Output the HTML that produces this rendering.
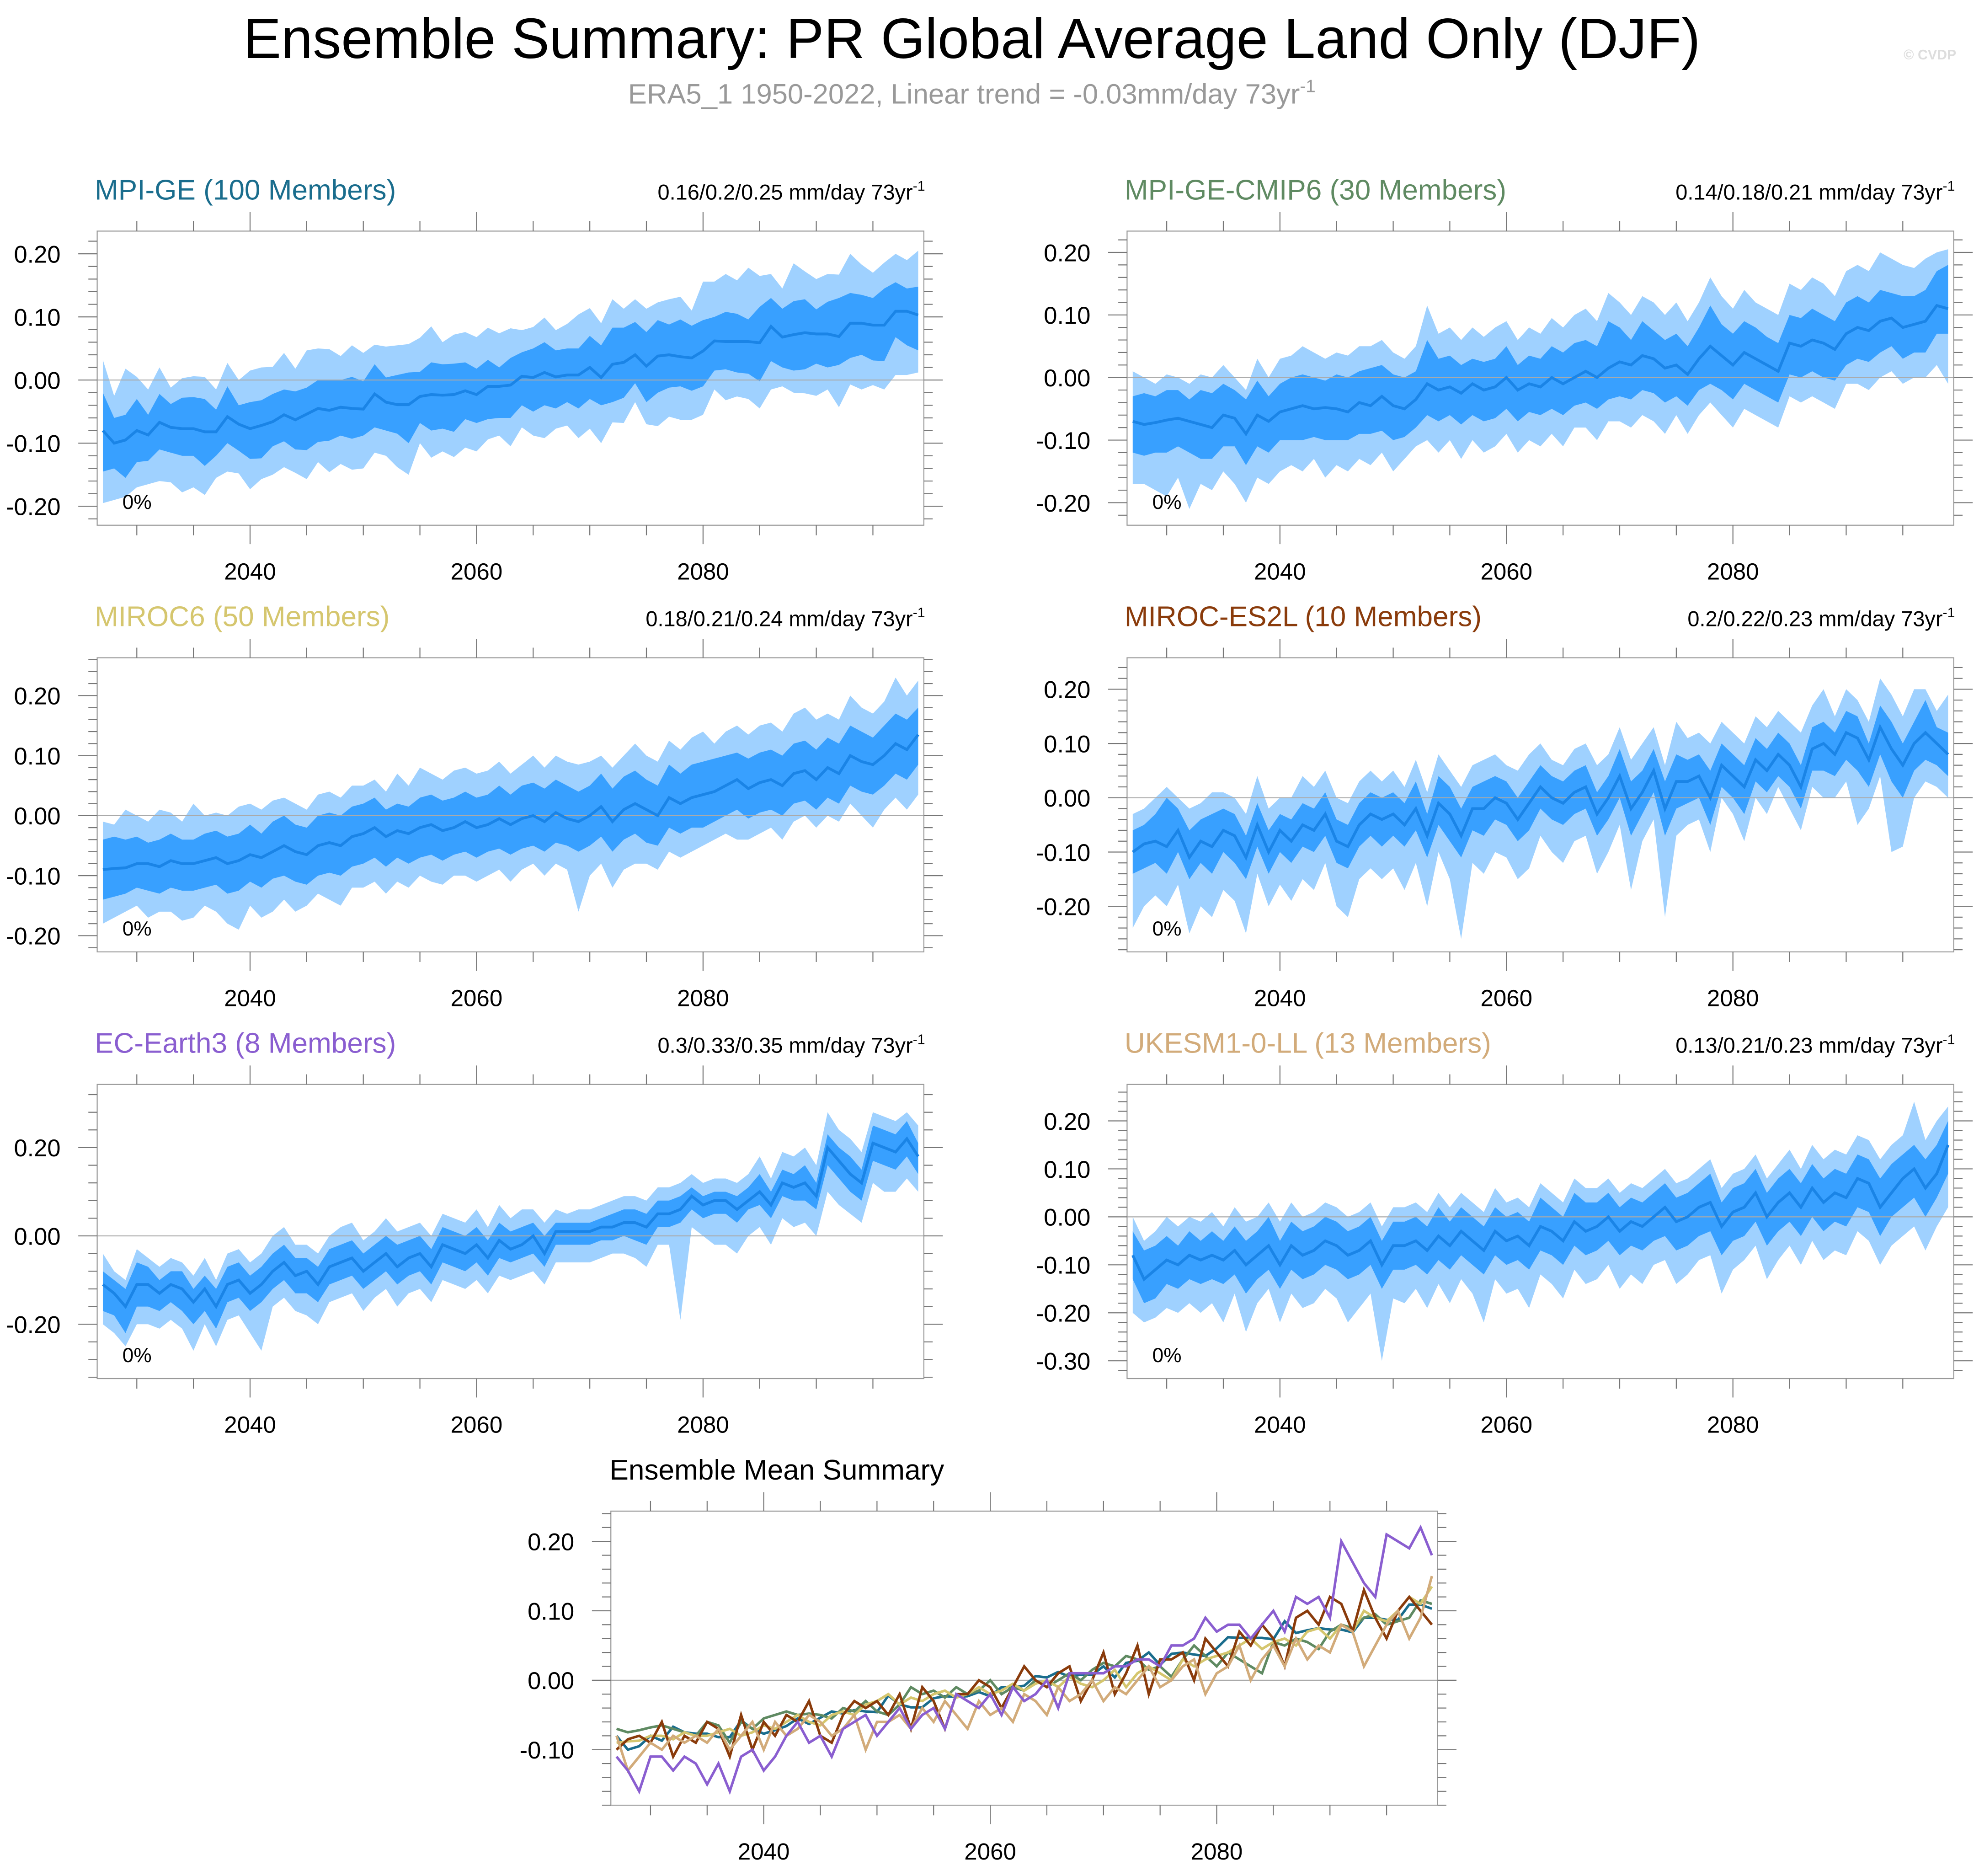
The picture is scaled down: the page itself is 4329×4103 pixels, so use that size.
<!DOCTYPE html>
<html><head><meta charset="utf-8"><style>
html,body{margin:0;padding:0;background:#fff;}
svg{display:block;font-family:"Liberation Sans",sans-serif;}
</style></head><body>
<svg id="chart" width="4329" height="4103" viewBox="0 0 1568 1486" xmlns="http://www.w3.org/2000/svg">
<rect width="1568" height="1486" fill="#fff"/>
<text x="770" y="46" font-size="45" text-anchor="middle" fill="#000">Ensemble Summary: PR Global Average Land Only (DJF)</text>
<text x="770" y="82" font-size="22.3" text-anchor="middle" fill="#999">ERA5_1 1950-2022, Linear trend = -0.03mm/day 73yr<tspan dy="-9" font-size="14">-1</tspan></text>
<text x="1550" y="47" font-size="11" text-anchor="end" fill="#ddd" font-weight="bold">© CVDP</text>
<g id="plots"></g>
</svg>
<script>
const years0 = 2027;
const mean1=[-0.08,-0.10,-0.095,-0.08,-0.087,-0.067,-0.075,-0.077,-0.077,-0.082,-0.082,-0.058,-0.07,-0.077,-0.072,-0.066,-0.055,-0.063,-0.054,-0.045,-0.048,-0.043,-0.045,-0.046,-0.022,-0.035,-0.039,-0.039,-0.026,-0.023,-0.024,-0.023,-0.017,-0.023,-0.01,-0.01,-0.008,0.006,0.004,0.012,0.005,0.008,0.008,0.02,0.004,0.025,0.028,0.04,0.022,0.038,0.04,0.037,0.035,0.046,0.062,0.061,0.061,0.061,0.059,0.085,0.068,0.072,0.075,0.073,0.073,0.069,0.09,0.09,0.087,0.087,0.109,0.109,0.103];
const innerHi1=[-0.02,-0.06,-0.055,-0.03,-0.055,-0.022,-0.038,-0.028,-0.027,-0.03,-0.047,-0.01,-0.04,-0.035,-0.032,-0.022,-0.015,-0.018,-0.012,0.0,0.0,0.0,0.005,-0.002,0.025,0.004,0.008,0.012,0.013,0.028,0.025,0.026,0.028,0.018,0.032,0.02,0.035,0.044,0.05,0.06,0.047,0.05,0.05,0.07,0.055,0.083,0.083,0.092,0.076,0.095,0.088,0.096,0.086,0.095,0.1,0.108,0.105,0.096,0.116,0.13,0.113,0.125,0.128,0.112,0.124,0.13,0.138,0.135,0.13,0.145,0.155,0.145,0.148];
const innerLo1=[-0.145,-0.14,-0.155,-0.13,-0.128,-0.11,-0.115,-0.12,-0.12,-0.136,-0.12,-0.1,-0.112,-0.125,-0.124,-0.105,-0.097,-0.11,-0.111,-0.098,-0.096,-0.088,-0.093,-0.088,-0.075,-0.08,-0.085,-0.1,-0.068,-0.08,-0.077,-0.082,-0.062,-0.068,-0.062,-0.06,-0.06,-0.04,-0.05,-0.04,-0.045,-0.035,-0.045,-0.03,-0.04,-0.035,-0.028,-0.005,-0.035,-0.02,-0.012,-0.01,-0.017,-0.01,0.015,0.017,0.012,0.01,-0.002,0.03,0.02,0.015,0.017,0.026,0.02,0.024,0.035,0.04,0.031,0.03,0.068,0.055,0.047];
const outerHi1=[0.032,-0.025,0.018,0.005,-0.015,0.02,-0.012,0.003,0.006,0.005,-0.015,0.027,0.0,0.015,0.02,0.021,0.043,0.018,0.047,0.05,0.049,0.038,0.055,0.043,0.056,0.053,0.055,0.057,0.067,0.085,0.06,0.072,0.076,0.068,0.083,0.074,0.082,0.079,0.084,0.099,0.079,0.089,0.104,0.114,0.09,0.128,0.113,0.128,0.113,0.123,0.128,0.132,0.11,0.156,0.156,0.168,0.158,0.178,0.165,0.168,0.145,0.185,0.172,0.16,0.168,0.167,0.2,0.183,0.17,0.186,0.2,0.19,0.205];
const outerLo1=[-0.195,-0.19,-0.185,-0.17,-0.165,-0.16,-0.162,-0.178,-0.17,-0.182,-0.155,-0.145,-0.148,-0.173,-0.157,-0.15,-0.138,-0.147,-0.157,-0.13,-0.146,-0.133,-0.142,-0.14,-0.115,-0.12,-0.138,-0.15,-0.1,-0.123,-0.113,-0.122,-0.107,-0.113,-0.094,-0.088,-0.105,-0.075,-0.088,-0.092,-0.077,-0.072,-0.092,-0.077,-0.1,-0.067,-0.068,-0.035,-0.07,-0.073,-0.058,-0.063,-0.063,-0.055,-0.015,-0.032,-0.026,-0.03,-0.045,-0.015,-0.01,-0.02,-0.021,-0.025,-0.015,-0.043,-0.007,-0.015,-0.008,-0.015,0.008,0.008,0.012];

const mean2=[-0.07,-0.075,-0.072,-0.068,-0.065,-0.07,-0.075,-0.08,-0.06,-0.065,-0.09,-0.06,-0.07,-0.055,-0.05,-0.045,-0.05,-0.048,-0.05,-0.055,-0.04,-0.045,-0.03,-0.045,-0.05,-0.035,-0.01,-0.02,-0.015,-0.025,-0.01,-0.02,-0.015,0.0,-0.02,-0.01,-0.015,0.0,-0.01,0.0,0.01,0.0,0.015,0.025,0.02,0.035,0.03,0.015,0.02,0.005,0.03,0.05,0.035,0.02,0.04,0.03,0.02,0.01,0.055,0.05,0.06,0.055,0.045,0.07,0.08,0.075,0.09,0.095,0.08,0.085,0.09,0.115,0.11];
const innerHi2=[-0.03,-0.025,-0.03,-0.02,-0.02,-0.035,-0.02,-0.025,-0.01,-0.02,-0.035,-0.005,-0.03,-0.01,0.0,0.005,0.0,-0.005,0.005,0.0,0.01,0.015,0.02,0.005,0.0,0.01,0.06,0.03,0.035,0.02,0.03,0.025,0.03,0.05,0.02,0.035,0.03,0.05,0.04,0.055,0.06,0.05,0.09,0.08,0.06,0.09,0.075,0.06,0.07,0.05,0.08,0.115,0.085,0.07,0.09,0.08,0.065,0.055,0.1,0.095,0.11,0.1,0.09,0.12,0.13,0.12,0.14,0.135,0.13,0.13,0.14,0.17,0.18];
const innerLo2=[-0.12,-0.125,-0.12,-0.12,-0.11,-0.12,-0.13,-0.13,-0.11,-0.11,-0.14,-0.11,-0.12,-0.1,-0.1,-0.1,-0.095,-0.1,-0.1,-0.1,-0.09,-0.09,-0.085,-0.1,-0.095,-0.08,-0.06,-0.07,-0.06,-0.075,-0.06,-0.07,-0.065,-0.05,-0.07,-0.055,-0.06,-0.05,-0.06,-0.045,-0.04,-0.05,-0.035,-0.03,-0.035,-0.02,-0.025,-0.04,-0.03,-0.045,-0.02,-0.01,-0.02,-0.035,-0.01,-0.02,-0.03,-0.04,0.005,0.0,0.01,0.0,-0.005,0.02,0.03,0.025,0.04,0.05,0.03,0.04,0.04,0.07,0.07];
const outerHi2=[0.01,0.0,-0.01,0.005,0.0,-0.01,0.005,0.0,0.02,0.0,-0.02,0.03,0.0,0.03,0.035,0.05,0.04,0.03,0.04,0.035,0.05,0.05,0.06,0.04,0.03,0.05,0.115,0.07,0.08,0.06,0.08,0.065,0.08,0.09,0.06,0.08,0.07,0.095,0.08,0.1,0.11,0.09,0.135,0.12,0.1,0.13,0.12,0.1,0.12,0.09,0.12,0.16,0.13,0.11,0.14,0.12,0.11,0.1,0.15,0.14,0.16,0.15,0.13,0.17,0.18,0.17,0.2,0.19,0.18,0.175,0.19,0.2,0.205];
const outerLo2=[-0.17,-0.17,-0.18,-0.19,-0.16,-0.21,-0.17,-0.18,-0.15,-0.17,-0.2,-0.16,-0.17,-0.15,-0.14,-0.15,-0.13,-0.16,-0.14,-0.15,-0.13,-0.14,-0.12,-0.15,-0.13,-0.11,-0.1,-0.12,-0.1,-0.13,-0.1,-0.12,-0.11,-0.09,-0.12,-0.1,-0.11,-0.09,-0.11,-0.08,-0.08,-0.1,-0.07,-0.07,-0.08,-0.06,-0.07,-0.09,-0.06,-0.09,-0.06,-0.04,-0.06,-0.08,-0.05,-0.06,-0.07,-0.08,-0.03,-0.04,-0.03,-0.04,-0.05,-0.01,-0.01,-0.02,0.0,0.01,-0.01,0.0,0.0,0.02,-0.01];

const mean3=[-0.09,-0.088,-0.087,-0.08,-0.08,-0.085,-0.075,-0.08,-0.08,-0.075,-0.07,-0.08,-0.075,-0.065,-0.07,-0.06,-0.05,-0.06,-0.065,-0.05,-0.045,-0.05,-0.035,-0.03,-0.02,-0.035,-0.025,-0.03,-0.02,-0.015,-0.025,-0.02,-0.01,-0.02,-0.015,-0.005,-0.015,-0.005,0.0,-0.01,0.005,-0.005,-0.01,0.0,0.015,-0.01,0.01,0.02,0.01,0.0,0.03,0.02,0.03,0.035,0.04,0.05,0.06,0.045,0.055,0.06,0.05,0.07,0.075,0.06,0.08,0.07,0.1,0.09,0.085,0.1,0.12,0.11,0.135];
const innerHi3=[-0.04,-0.035,-0.04,-0.035,-0.045,-0.04,-0.03,-0.04,-0.04,-0.03,-0.025,-0.035,-0.03,-0.015,-0.03,-0.01,0.0,-0.015,-0.02,0.0,0.005,0.0,0.015,0.02,0.03,0.01,0.02,0.015,0.03,0.035,0.025,0.03,0.04,0.03,0.035,0.05,0.035,0.05,0.055,0.045,0.06,0.05,0.04,0.05,0.07,0.045,0.065,0.075,0.06,0.05,0.085,0.07,0.085,0.09,0.095,0.1,0.105,0.095,0.105,0.11,0.1,0.12,0.125,0.11,0.13,0.12,0.15,0.14,0.13,0.15,0.17,0.16,0.18];
const innerLo3=[-0.14,-0.135,-0.13,-0.12,-0.125,-0.13,-0.12,-0.125,-0.125,-0.12,-0.115,-0.13,-0.125,-0.11,-0.12,-0.105,-0.1,-0.11,-0.115,-0.1,-0.095,-0.1,-0.085,-0.08,-0.07,-0.085,-0.07,-0.08,-0.07,-0.065,-0.075,-0.065,-0.06,-0.07,-0.06,-0.055,-0.065,-0.055,-0.05,-0.06,-0.045,-0.05,-0.06,-0.05,-0.035,-0.06,-0.04,-0.03,-0.045,-0.05,-0.02,-0.03,-0.02,-0.02,-0.01,0.0,0.01,-0.005,0.005,0.01,0.0,0.02,0.025,0.01,0.03,0.02,0.05,0.04,0.035,0.05,0.07,0.06,0.085];
const outerHi3=[-0.01,-0.015,0.01,0.0,-0.01,0.01,0.005,-0.01,0.02,0.0,0.005,0.0,0.015,0.02,0.01,0.025,0.03,0.02,0.01,0.035,0.04,0.03,0.05,0.05,0.06,0.04,0.07,0.05,0.08,0.07,0.06,0.075,0.08,0.07,0.075,0.09,0.07,0.085,0.1,0.08,0.1,0.09,0.085,0.09,0.1,0.08,0.1,0.12,0.1,0.09,0.125,0.11,0.13,0.14,0.12,0.14,0.15,0.135,0.15,0.155,0.14,0.17,0.18,0.16,0.17,0.16,0.2,0.18,0.17,0.19,0.23,0.2,0.225];
const outerLo3=[-0.18,-0.17,-0.16,-0.15,-0.17,-0.16,-0.16,-0.175,-0.17,-0.15,-0.16,-0.18,-0.19,-0.15,-0.17,-0.16,-0.14,-0.16,-0.15,-0.13,-0.14,-0.15,-0.12,-0.12,-0.11,-0.13,-0.11,-0.12,-0.1,-0.11,-0.115,-0.1,-0.1,-0.11,-0.1,-0.09,-0.11,-0.09,-0.08,-0.1,-0.08,-0.09,-0.16,-0.1,-0.08,-0.12,-0.09,-0.08,-0.08,-0.09,-0.06,-0.07,-0.06,-0.05,-0.04,-0.03,-0.04,-0.04,-0.03,-0.02,-0.04,-0.01,0.0,-0.02,0.0,-0.01,0.02,0.0,-0.02,0.01,0.03,0.01,0.035];

const mean4=[-0.1,-0.085,-0.08,-0.09,-0.06,-0.11,-0.08,-0.09,-0.06,-0.07,-0.11,-0.05,-0.1,-0.06,-0.08,-0.05,-0.06,-0.03,-0.08,-0.09,-0.05,-0.03,-0.04,-0.03,-0.05,-0.02,-0.07,-0.01,-0.03,-0.07,-0.02,-0.02,0.0,-0.01,-0.04,-0.01,0.02,0.0,-0.01,0.01,0.02,-0.03,0.0,0.04,-0.02,0.01,0.05,-0.02,0.03,0.03,0.04,0.0,0.06,0.04,0.02,0.07,0.05,0.08,0.06,0.02,0.09,0.1,0.08,0.12,0.11,0.07,0.13,0.09,0.06,0.1,0.12,0.1,0.08];
const innerHi4=[-0.06,-0.05,-0.03,0.0,-0.02,-0.06,-0.04,-0.03,-0.02,-0.03,-0.07,-0.01,-0.06,-0.03,-0.04,-0.01,-0.02,0.01,-0.04,-0.05,-0.01,0.01,0.0,0.01,-0.01,0.03,-0.03,0.04,0.02,-0.02,0.02,0.03,0.04,0.03,0.0,0.03,0.06,0.04,0.03,0.05,0.06,0.01,0.04,0.09,0.03,0.05,0.09,0.03,0.08,0.07,0.08,0.05,0.1,0.08,0.06,0.11,0.09,0.12,0.1,0.06,0.13,0.14,0.12,0.16,0.15,0.1,0.17,0.14,0.1,0.14,0.18,0.13,0.12];
const innerLo4=[-0.14,-0.13,-0.12,-0.14,-0.1,-0.15,-0.12,-0.14,-0.1,-0.12,-0.15,-0.09,-0.14,-0.1,-0.12,-0.09,-0.1,-0.07,-0.12,-0.13,-0.09,-0.07,-0.09,-0.07,-0.09,-0.06,-0.11,-0.05,-0.08,-0.11,-0.06,-0.07,-0.04,-0.05,-0.08,-0.06,-0.02,-0.04,-0.05,-0.03,-0.02,-0.07,-0.04,0.0,-0.07,-0.03,0.01,-0.07,-0.02,-0.01,0.0,-0.05,0.02,0.0,-0.03,0.03,0.01,0.04,0.02,-0.02,0.05,0.05,0.04,0.07,0.05,0.02,0.08,0.03,0.0,0.05,0.07,0.06,0.04];
const outerHi4=[-0.03,-0.02,0.0,0.02,0.0,-0.02,-0.01,0.01,0.01,0.0,-0.03,0.04,-0.02,0.0,0.0,0.04,0.02,0.05,0.0,-0.01,0.03,0.05,0.03,0.05,0.02,0.07,0.01,0.08,0.05,0.02,0.06,0.07,0.08,0.06,0.05,0.08,0.1,0.07,0.06,0.09,0.1,0.06,0.08,0.13,0.07,0.1,0.13,0.06,0.14,0.11,0.12,0.1,0.14,0.12,0.1,0.15,0.13,0.16,0.14,0.12,0.17,0.2,0.15,0.2,0.18,0.14,0.22,0.19,0.15,0.2,0.2,0.16,0.19];
const outerLo4=[-0.24,-0.2,-0.18,-0.2,-0.16,-0.25,-0.2,-0.22,-0.17,-0.19,-0.25,-0.14,-0.2,-0.16,-0.19,-0.15,-0.17,-0.12,-0.2,-0.22,-0.15,-0.13,-0.15,-0.13,-0.17,-0.12,-0.2,-0.1,-0.15,-0.26,-0.12,-0.14,-0.1,-0.11,-0.15,-0.13,-0.07,-0.1,-0.12,-0.08,-0.07,-0.14,-0.1,-0.05,-0.17,-0.08,-0.04,-0.22,-0.07,-0.05,-0.04,-0.1,0.0,-0.03,-0.08,0.0,-0.03,0.02,-0.02,-0.06,0.02,0.0,0.0,0.03,-0.05,-0.02,0.04,-0.1,-0.09,0.0,0.03,0.02,0.0];

const mean5=[-0.11,-0.13,-0.16,-0.11,-0.11,-0.13,-0.11,-0.12,-0.15,-0.12,-0.16,-0.11,-0.1,-0.13,-0.11,-0.08,-0.06,-0.09,-0.08,-0.11,-0.07,-0.06,-0.05,-0.08,-0.06,-0.04,-0.07,-0.05,-0.04,-0.07,-0.02,-0.03,-0.04,-0.02,-0.05,-0.01,-0.03,-0.02,0.0,-0.04,0.01,0.01,0.01,0.01,0.02,0.02,0.03,0.03,0.02,0.05,0.05,0.06,0.09,0.07,0.08,0.08,0.06,0.08,0.1,0.07,0.12,0.11,0.12,0.09,0.2,0.17,0.14,0.12,0.21,0.2,0.19,0.22,0.18];
const innerHi5=[-0.08,-0.1,-0.12,-0.06,-0.07,-0.1,-0.08,-0.08,-0.12,-0.09,-0.12,-0.07,-0.06,-0.09,-0.07,-0.04,-0.02,-0.05,-0.05,-0.07,-0.03,-0.02,-0.01,-0.04,-0.02,0.0,-0.02,-0.01,0.0,-0.03,0.02,0.01,0.0,0.02,-0.01,0.03,0.01,0.02,0.03,0.0,0.03,0.03,0.03,0.03,0.04,0.05,0.06,0.06,0.05,0.08,0.08,0.09,0.11,0.09,0.1,0.1,0.09,0.11,0.14,0.1,0.15,0.14,0.16,0.12,0.23,0.2,0.18,0.15,0.25,0.24,0.23,0.26,0.21];
const innerLo5=[-0.17,-0.18,-0.22,-0.16,-0.16,-0.17,-0.15,-0.17,-0.2,-0.17,-0.21,-0.15,-0.14,-0.17,-0.15,-0.12,-0.1,-0.13,-0.13,-0.15,-0.11,-0.1,-0.09,-0.12,-0.1,-0.08,-0.11,-0.09,-0.08,-0.11,-0.06,-0.07,-0.08,-0.06,-0.09,-0.05,-0.06,-0.05,-0.04,-0.07,-0.02,-0.02,-0.02,-0.02,-0.01,-0.01,0.0,-0.01,-0.02,0.02,0.02,0.03,0.06,0.04,0.05,0.05,0.03,0.06,0.07,0.04,0.09,0.08,0.08,0.06,0.16,0.13,0.1,0.08,0.17,0.16,0.15,0.18,0.14];
const outerHi5=[-0.04,-0.08,-0.1,-0.03,-0.05,-0.07,-0.05,-0.06,-0.09,-0.05,-0.1,-0.04,-0.03,-0.06,-0.04,0.0,0.02,-0.02,-0.02,-0.04,0.0,0.02,0.03,-0.01,0.01,0.04,0.01,0.02,0.03,0.0,0.05,0.04,0.03,0.06,0.02,0.07,0.04,0.06,0.06,0.03,0.06,0.05,0.06,0.06,0.07,0.08,0.09,0.09,0.08,0.11,0.11,0.12,0.14,0.12,0.13,0.13,0.12,0.14,0.18,0.13,0.19,0.18,0.2,0.16,0.28,0.24,0.22,0.19,0.28,0.27,0.26,0.28,0.25];
const outerLo5=[-0.2,-0.22,-0.25,-0.2,-0.2,-0.21,-0.19,-0.21,-0.26,-0.2,-0.25,-0.19,-0.18,-0.22,-0.26,-0.16,-0.14,-0.17,-0.18,-0.2,-0.15,-0.14,-0.13,-0.17,-0.14,-0.12,-0.16,-0.13,-0.12,-0.15,-0.1,-0.11,-0.12,-0.1,-0.13,-0.09,-0.1,-0.09,-0.08,-0.11,-0.06,-0.06,-0.06,-0.06,-0.05,-0.04,-0.04,-0.05,-0.07,-0.02,-0.02,-0.19,0.02,0.0,-0.02,-0.02,-0.04,0.0,0.02,-0.02,0.04,0.02,0.03,0.0,0.1,0.07,0.05,0.03,0.12,0.1,0.1,0.13,0.1];

const mean6=[-0.08,-0.13,-0.11,-0.09,-0.1,-0.08,-0.09,-0.08,-0.09,-0.07,-0.1,-0.08,-0.06,-0.1,-0.06,-0.08,-0.07,-0.05,-0.06,-0.08,-0.07,-0.05,-0.1,-0.06,-0.06,-0.05,-0.07,-0.04,-0.06,-0.03,-0.05,-0.07,-0.03,-0.05,-0.04,-0.06,-0.02,-0.03,-0.05,-0.01,-0.03,-0.02,0.0,-0.03,-0.01,-0.02,0.0,0.02,-0.01,0.0,0.02,0.03,-0.02,0.01,0.02,0.05,0.0,0.03,0.05,0.02,0.06,0.03,0.05,0.04,0.08,0.07,0.02,0.05,0.08,0.1,0.06,0.09,0.15];
const innerHi6=[-0.03,-0.07,-0.06,-0.04,-0.06,-0.03,-0.05,-0.03,-0.05,-0.02,-0.05,-0.03,0.0,-0.05,-0.01,-0.03,-0.02,0.0,-0.01,-0.03,-0.02,0.0,-0.05,-0.01,-0.01,0.0,-0.02,0.02,-0.01,0.02,0.0,-0.02,0.02,0.0,0.01,-0.01,0.04,0.02,0.0,0.05,0.03,0.03,0.05,0.02,0.04,0.03,0.05,0.07,0.04,0.05,0.07,0.09,0.03,0.06,0.07,0.1,0.05,0.08,0.1,0.07,0.11,0.08,0.1,0.09,0.13,0.12,0.08,0.11,0.13,0.15,0.12,0.15,0.2];
const innerLo6=[-0.13,-0.18,-0.17,-0.14,-0.15,-0.13,-0.14,-0.13,-0.14,-0.12,-0.16,-0.13,-0.11,-0.15,-0.11,-0.13,-0.12,-0.1,-0.11,-0.13,-0.12,-0.1,-0.15,-0.11,-0.11,-0.1,-0.12,-0.09,-0.11,-0.08,-0.1,-0.12,-0.08,-0.1,-0.09,-0.11,-0.07,-0.08,-0.1,-0.06,-0.08,-0.07,-0.05,-0.08,-0.06,-0.07,-0.05,-0.04,-0.07,-0.06,-0.04,-0.03,-0.08,-0.05,-0.04,-0.01,-0.06,-0.03,-0.01,-0.04,0.0,-0.03,-0.01,-0.02,0.02,0.01,-0.04,0.0,0.02,0.04,0.0,0.04,0.09];
const outerHi6=[0.0,-0.05,-0.03,0.0,-0.02,0.0,-0.01,0.01,-0.02,0.02,-0.01,0.0,0.03,-0.01,0.03,0.0,0.01,0.03,0.02,0.0,0.01,0.03,-0.02,0.02,0.02,0.03,0.01,0.05,0.02,0.05,0.03,0.01,0.06,0.03,0.04,0.02,0.07,0.05,0.03,0.08,0.06,0.06,0.08,0.05,0.07,0.06,0.08,0.1,0.07,0.08,0.1,0.12,0.06,0.09,0.1,0.13,0.08,0.11,0.14,0.1,0.15,0.12,0.14,0.13,0.17,0.16,0.12,0.15,0.17,0.24,0.16,0.2,0.23];
const outerLo6=[-0.2,-0.22,-0.21,-0.19,-0.2,-0.18,-0.2,-0.18,-0.22,-0.16,-0.24,-0.18,-0.15,-0.22,-0.16,-0.19,-0.18,-0.15,-0.17,-0.22,-0.19,-0.16,-0.3,-0.17,-0.18,-0.15,-0.19,-0.14,-0.18,-0.13,-0.16,-0.22,-0.13,-0.16,-0.15,-0.19,-0.12,-0.14,-0.17,-0.11,-0.14,-0.13,-0.1,-0.15,-0.12,-0.14,-0.1,-0.09,-0.14,-0.12,-0.09,-0.08,-0.16,-0.11,-0.09,-0.06,-0.13,-0.09,-0.06,-0.1,-0.05,-0.09,-0.07,-0.08,-0.03,-0.05,-0.1,-0.06,-0.04,-0.02,-0.07,-0.02,0.02];

const modelNames=["MPI-GE (100 Members)","MPI-GE-CMIP6 (30 Members)","MIROC6 (50 Members)","MIROC-ES2L (10 Members)","EC-Earth3 (8 Members)","UKESM1-0-LL (13 Members)"];
const trendLabels=["0.16/0.2/0.25","0.14/0.18/0.21","0.18/0.21/0.24","0.2/0.22/0.23","0.3/0.33/0.35","0.13/0.21/0.23"];
const xTickLabels=[2040,2060,2080];
const yTicks1=[-0.2,-0.1,0,0.1,0.2];
const yTicks5=[-0.2,0,0.2];
const yTicks6=[-0.3,-0.2,-0.1,0,0.1,0.2];
const yTicksMean=[-0.1,0,0.1,0.2];

const NS="http://www.w3.org/2000/svg";
const root=document.getElementById('plots');
function mk(tag,attrs,parent){const e=document.createElementNS(NS,tag);for(const k in attrs)e.setAttribute(k,attrs[k]);(parent||root).appendChild(e);return e;}

function drawAxes(g,P,yTicks,minorStep){
  const X=y=>P.x+(y-2026.5)/73*P.w;
  const Y=v=>P.y+(P.ymax-v)/(P.ymax-P.ymin)*P.h;
  const z=mk('line',{x1:P.x,x2:P.x+P.w,y1:Y(0),y2:Y(0),stroke:'#aaa','stroke-width':0.8},g);
  
  
  const box=mk('rect',{x:P.x,y:P.y,width:P.w,height:P.h,fill:'none',stroke:'#999','stroke-width':0.8},g);
  
  
  for(let yr=2030;yr<=2095;yr+=5){
    const major=yr%20===0; const L=major?15:8; const x=X(yr);
    mk('line',{x1:x,x2:x,y1:P.y,y2:P.y-L,stroke:'#777','stroke-width':0.8},g);
    mk('line',{x1:x,x2:x,y1:P.y+P.h,y2:P.y+P.h+L,stroke:'#777','stroke-width':0.8},g);
  }
  xTickLabels.forEach(yr=>{
    const t=mk('text',{x:X(yr),y:P.y+P.h+43,'font-size':18.5,'text-anchor':'middle',fill:'#000'},g);
    t.textContent=yr;
    
    
  });
  const start=Math.ceil(P.ymin/minorStep-1e-6);
  for(let k=start;k*minorStep<=P.ymax+1e-9;k++){
    const v=k*minorStep; const y=Y(v);
    const major=yTicks.some(t=>Math.abs(t-v)<1e-6); const L=major?15:7;
    mk('line',{x1:P.x,x2:P.x-L,y1:y,y2:y,stroke:'#777','stroke-width':0.8},g);
    mk('line',{x1:P.x+P.w,x2:P.x+P.w+L,y1:y,y2:y,stroke:'#777','stroke-width':0.8},g);
  }
  yTicks.forEach(v=>{
    const t=mk('text',{x:P.x-29,y:Y(v)+7,'font-size':19,'text-anchor':'end',fill:'#000'},g);
    t.textContent=v.toFixed(2);
    
    
  });
  return {X,Y};
}
function areaPath(lo,hi,X,Y){
  const n=Math.min(lo.length,hi.length);let d='';
  for(let i=0;i<n;i++)d+=(i?'L':'M')+X(years0+i).toFixed(2)+','+Y(hi[i]).toFixed(2);
  for(let i=n-1;i>=0;i--)d+='L'+X(years0+i).toFixed(2)+','+Y(lo[i]).toFixed(2);
  return d+'Z';
}
function linePath(arr,X,Y){return arr.map((v,i)=>(i?'L':'M')+X(years0+i).toFixed(2)+','+Y(v).toFixed(2)).join('');}

const panels=[
 {x:77,y:183,w:655,h:233,ymax:0.236,ymin:-0.23,ticks:yTicks1,minor:0.02,color:'#1a6d8d',data:[mean1,innerLo1,innerHi1,outerLo1,outerHi1]},
 {x:893,y:183,w:655,h:233,ymax:0.234,ymin:-0.236,ticks:yTicks1,minor:0.02,color:'#5f8a62',data:[mean2,innerLo2,innerHi2,outerLo2,outerHi2]},
 {x:77,y:521,w:655,h:233,ymax:0.263,ymin:-0.227,ticks:yTicks1,minor:0.02,color:'#d5c66e',data:[mean3,innerLo3,innerHi3,outerLo3,outerHi3]},
 {x:893,y:521,w:655,h:233,ymax:0.258,ymin:-0.284,ticks:yTicks1,minor:0.02,color:'#8a3b0b',data:[mean4,innerLo4,innerHi4,outerLo4,outerHi4]},
 {x:77,y:859,w:655,h:233,ymax:0.343,ymin:-0.323,ticks:yTicks5,minor:0.04,color:'#8a5ed0',data:[mean5,innerLo5,innerHi5,outerLo5,outerHi5]},
 {x:893,y:859,w:655,h:233,ymax:0.276,ymin:-0.337,ticks:yTicks6,minor:0.02,color:'#d2ab7a',data:[mean6,innerLo6,innerHi6,outerLo6,outerHi6]}
];
panels.forEach((P,i)=>{
  const g=mk('g',{});
  
  
  const X=y=>P.x+(y-2026.5)/73*P.w;
  const Y=v=>P.y+(P.ymax-v)/(P.ymax-P.ymin)*P.h;
  const [m,il,ih,ol,oh]=P.data;
  const o=mk('path',{d:areaPath(ol,oh,X,Y),fill:'#9fd1ff'},g);
  
  
  const inn=mk('path',{d:areaPath(il,ih,X,Y),fill:'#38a0ff'},g);
  
  
  drawAxes(g,P,P.ticks,P.minor);
  const ln=mk('path',{d:linePath(m,X,Y),fill:'none',stroke:'#1a84e6','stroke-width':2.2},g);
  
  
  const t=mk('text',{x:P.x-2,y:P.y-25,'font-size':22.5,fill:P.color},g);
  t.textContent=modelNames[i];
  
  
  const r=mk('text',{x:P.x+P.w+1,y:P.y-25,'font-size':17,'text-anchor':'end',fill:'#000'},g);
  r.innerHTML=trendLabels[i]+' mm/day 73yr<tspan dy="-7" font-size="11">-1</tspan>';
  
  
  const pc=mk('text',{x:P.x+20,y:P.y+P.h-13,'font-size':16,fill:'#000'},g);
  pc.textContent='0%';
  
  
});

const B={x:484,y:1197,w:655,h:233,ymax:0.2436,ymin:-0.18};
const gb=mk('g',{});


const ax=drawAxes(gb,B,yTicksMean,0.02);
const meanSeries=[mean1,mean2,mean3,mean4,mean6,mean5];
const meanColors=['#1a6d8d','#5f8a62','#d5c66e','#8a3b0b','#d2ab7a','#8a5ed0'];
meanSeries.forEach((s,i)=>{
  const p=mk('path',{d:linePath(s,ax.X,ax.Y),fill:'none',stroke:meanColors[i],'stroke-width':2},gb);
  
  
});
const bt=mk('text',{x:483,y:1172,'font-size':22.5,fill:'#000'},gb);
bt.textContent='Ensemble Mean Summary';


</script>
</body></html>
